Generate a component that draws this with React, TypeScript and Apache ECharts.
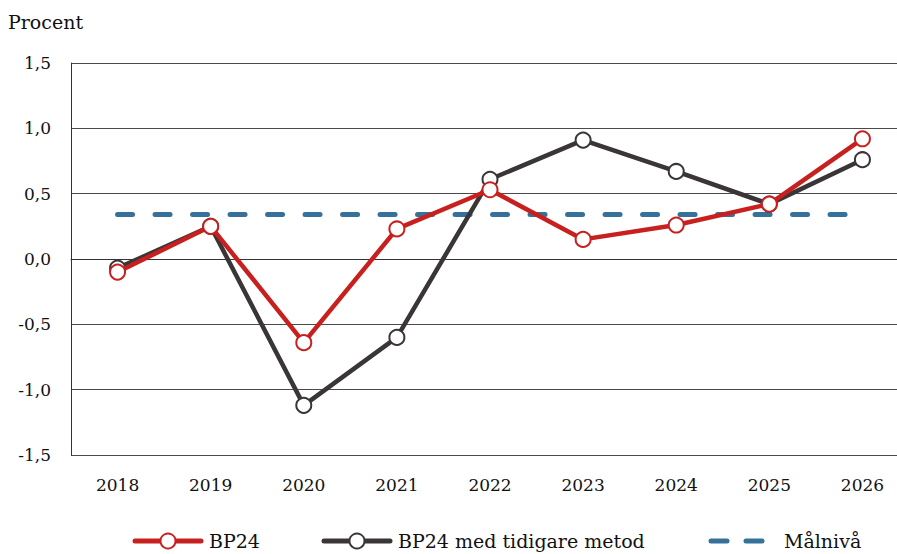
import React, { useEffect, useRef } from "react";
import * as echarts from "echarts";

const years = ["2018", "2019", "2020", "2021", "2022", "2023", "2024", "2025", "2026"];
const bp24 = [-0.1, 0.25, -0.64, 0.23, 0.53, 0.15, 0.26, 0.42, 0.92];
const bp24Old = [-0.07, 0.25, -1.12, -0.6, 0.61, 0.91, 0.67, 0.42, 0.76];
const target = [0.34, 0.34, 0.34, 0.34, 0.34, 0.34, 0.34, 0.34, 0.34];
const seriesNames = ["BP24", "BP24 med tidigare metod", "Målnivå"];
const yLabel = "Procent";

const FONT = "DejaVu Serif";
const RED = "#c8201f";
const DARK = "#3a3536";
const BLUE = "#35719b";

export default function App() {
  const ref = useRef<HTMLDivElement>(null);
  useEffect(() => {
    if (!ref.current) return;
    const chart = echarts.init(ref.current, undefined, { renderer: "svg" });
    const ly = 541;
    const legendText = (x: number, text: string) => ({
      type: "text",
      x,
      y: ly,
      style: {
        text,
        font: `19px "${FONT}"`,
        fill: "#111",
        textVerticalAlign: "middle",
        textAlign: "left",
      },
    });
    const legendLineMarker = (x0: number, color: string) => [
      {
        type: "line",
        shape: { x1: x0, y1: ly, x2: x0 + 66, y2: ly },
        style: { stroke: color, lineWidth: 5, lineCap: "round" },
      },
      {
        type: "circle",
        shape: { cx: x0 + 33, cy: ly, r: 7.5 },
        style: { fill: "#fff", stroke: color, lineWidth: 2 },
      },
    ];
    chart.setOption({
      animation: false,
      backgroundColor: "#ffffff",
      textStyle: { fontFamily: FONT, color: "#111" },
      grid: { left: 71, top: 63, bottom: 99, right: 0, containLabel: false },
      graphic: [
        {
          type: "text",
          x: 8,
          y: 22,
          style: {
            text: yLabel,
            font: `19px "${FONT}"`,
            fill: "#111",
            textVerticalAlign: "middle",
          },
        },
        ...legendLineMarker(135, RED),
        legendText(209, seriesNames[0]),
        ...legendLineMarker(324, DARK),
        legendText(398, seriesNames[1]),
        {
          type: "line",
          shape: { x1: 711, y1: ly, x2: 727, y2: ly },
          style: { stroke: BLUE, lineWidth: 5, lineCap: "round" },
        },
        {
          type: "line",
          shape: { x1: 746, y1: ly, x2: 762, y2: ly },
          style: { stroke: BLUE, lineWidth: 5, lineCap: "round" },
        },
        legendText(784, seriesNames[2]),
      ],
      xAxis: {
        type: "category",
        data: years,
        boundaryGap: true,
        axisLine: { show: true, lineStyle: { color: "#333", width: 1 } },
        axisTick: { show: false },
        axisLabel: { fontFamily: FONT, fontSize: 17, color: "#111", margin: 21 },
      },
      yAxis: {
        type: "value",
        min: -1.5,
        max: 1.5,
        interval: 0.5,
        axisLine: { show: true, lineStyle: { color: "#333", width: 1 } },
        axisTick: { show: false },
        splitLine: { show: true, lineStyle: { color: "#4a4a4a", width: 1 } },
        axisLabel: {
          fontFamily: FONT,
          fontSize: 17,
          color: "#111",
          margin: 20,
          formatter: (v: number) => v.toFixed(1).replace(".", ","),
        },
      },
      series: [
        {
          name: seriesNames[2],
          type: "line",
          data: target,
          symbol: "none",
          z: 1,
          lineStyle: { color: BLUE, width: 5, type: [15, 22.5], cap: "round" },
          itemStyle: { color: BLUE },
        },
        {
          name: seriesNames[1],
          type: "line",
          data: bp24Old,
          symbol: "circle",
          symbolSize: 15,
          z: 2,
          lineStyle: { color: DARK, width: 4.5 },
          itemStyle: { color: "#fff", borderColor: DARK, borderWidth: 2 },
        },
        {
          name: seriesNames[0],
          type: "line",
          data: bp24,
          symbol: "circle",
          symbolSize: 15,
          z: 3,
          lineStyle: { color: RED, width: 4.5 },
          itemStyle: { color: "#fff", borderColor: RED, borderWidth: 2 },
        },
      ],
    });
    return () => chart.dispose();
  }, []);
  return (
    <div
      style={{
        position: "fixed",
        left: 0,
        top: 0,
        width: 897,
        height: 554,
        overflow: "hidden",
        background: "#fff",
      }}
    >
      <div ref={ref} style={{ width: 909, height: 554 }} />
    </div>
  );
}
